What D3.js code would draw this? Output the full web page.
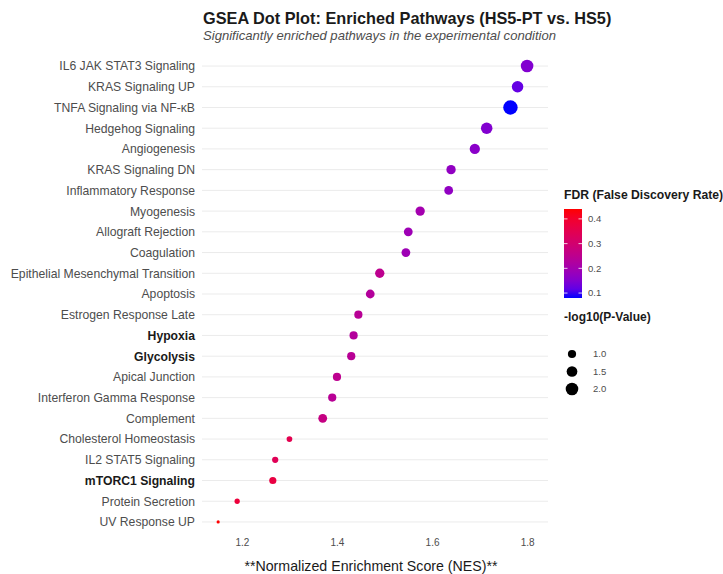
<!DOCTYPE html>
<html>
<head>
<meta charset="utf-8">
<script src="https://cdn.jsdelivr.net/npm/d3@7"></script>
<style>
  html, body { margin: 0; padding: 0; background: #fff; }
  svg { display: block; font-family: "Liberation Sans", Arial, Helvetica, sans-serif; }
</style>
</head>
<body>
<svg id="chart" width="723" height="574"></svg>
<script>
// Hallmark pathways, ordered top to bottom by NES
const pathways = [
  "IL6 JAK STAT3 Signaling", "KRAS Signaling UP", "TNFA Signaling via NF-κB",
  "Hedgehog Signaling", "Angiogenesis", "KRAS Signaling DN", "Inflammatory Response",
  "Myogenesis", "Allograft Rejection", "Coagulation", "Epithelial Mesenchymal Transition",
  "Apoptosis", "Estrogen Response Late", "Hypoxia", "Glycolysis", "Apical Junction",
  "Interferon Gamma Response", "Complement", "Cholesterol Homeostasis",
  "IL2 STAT5 Signaling", "mTORC1 Signaling", "Protein Secretion", "UV Response UP"
];
const nes = [1.80, 1.78, 1.765, 1.715, 1.69, 1.64, 1.635, 1.575, 1.55, 1.545, 1.49,
  1.47, 1.445, 1.435, 1.43, 1.40, 1.39, 1.37, 1.30, 1.27, 1.265, 1.19, 1.15];
const fdr = [0.15, 0.12, 0.08, 0.15, 0.16, 0.17, 0.17, 0.20, 0.19, 0.19, 0.25,
  0.23, 0.24, 0.23, 0.24, 0.25, 0.24, 0.27, 0.35, 0.34, 0.37, 0.38, 0.44];
const negLog10P = [2.0, 1.7, 2.6, 1.7, 1.4, 1.2, 1.1, 1.2, 1.1, 1.1, 1.2,
  1.1, 1.0, 1.0, 1.0, 1.0, 1.0, 1.1, 0.7, 0.75, 0.85, 0.67, 0.6];
// pathways called out in bold on the axis
const highlighted = ["Hypoxia", "Glycolysis", "mTORC1 Signaling"];

const xTicks = [1.2, 1.4, 1.6, 1.8];
const fdrTicks = [0.1, 0.2, 0.3, 0.4];
const sizeTicks = [1.0, 1.5, 2.0];

const titleText = "GSEA Dot Plot: Enriched Pathways (HS5-PT vs. HS5)";
const subtitleText = "Significantly enriched pathways in the experimental condition";
const xLabel = "**Normalized Enrichment Score (NES)**";
const colorLegendTitle = "FDR (False Discovery Rate)";
const sizeLegendTitle = "-log10(P-Value)";

const rows = pathways.map((p, i) => ({ pathway: p, nes: nes[i], fdr: fdr[i], lp: negLog10P[i] }));

const FONT = "'Liberation Sans', Arial, Helvetica, sans-serif";
const svg = d3.select("#chart");
svg.append("rect").attr("width", 723).attr("height", 574).attr("fill", "#fff");

const panel = { left: 202, right: 548, top: 53.6, bottom: 534.4 };

const x = d3.scaleLinear().domain([1.116, 1.844]).range([panel.left, panel.right]);
const y = d3.scalePoint().domain(pathways).range([panel.top, panel.bottom]).padding(0.6);

// continuous blue -> red colour scale over the FDR range
const color = d3.scaleLinear().domain(d3.extent(fdr)).range(["blue", "red"])
  .interpolate(d3.interpolateLab).clamp(true);

// area-proportional sizing between smallest and largest -log10(p)
const lpNorm = d3.scaleLinear().domain(d3.extent(negLog10P)).range([0, 1]).clamp(true);
const radiusOf = d3.scaleLinear().domain([0, 1]).range([1.6, 7.2]);
const r = v => radiusOf(Math.sqrt(lpNorm(v)));

// horizontal grid lines
svg.append("g").selectAll("line").data(pathways).join("line")
  .attr("x1", panel.left).attr("x2", panel.right)
  .attr("y1", d => y(d)).attr("y2", d => y(d))
  .attr("stroke", "#ebebeb").attr("stroke-width", 1);

// y axis labels
const yAxis = svg.append("g").attr("transform", `translate(${panel.left},0)`)
  .call(d3.axisLeft(y).tickSize(0).tickPadding(7));
yAxis.select(".domain").remove();
yAxis.selectAll("text")
  .attr("font-size", 12.2)
  .attr("font-family", FONT)
  .attr("fill", d => highlighted.includes(d) ? "#1a1a1a" : "#4d4d4d")
  .attr("font-weight", d => highlighted.includes(d) ? "bold" : "normal");

// x axis labels
const xAxis = svg.append("g").attr("transform", `translate(0,${panel.bottom})`)
  .call(d3.axisBottom(x).tickValues(xTicks).tickFormat(d3.format(".1f")).tickSize(0).tickPadding(5));
xAxis.select(".domain").remove();
xAxis.selectAll("text")
  .attr("font-size", 10)
  .attr("font-family", FONT)
  .attr("fill", "#4d4d4d");

// dots
svg.append("g").selectAll("circle").data(rows).join("circle")
  .attr("cx", d => x(d.nes))
  .attr("cy", d => y(d.pathway))
  .attr("r", d => r(d.lp))
  .attr("fill", d => color(d.fdr));

// titles
svg.append("text").attr("x", 203).attr("y", 24)
  .attr("font-size", 16.3).attr("font-weight", "bold").attr("fill", "#1a1a1a")
  .text(titleText);
svg.append("text").attr("x", 203).attr("y", 40)
  .attr("font-size", 13.1).attr("font-style", "italic").attr("fill", "#4d4d4d")
  .text(subtitleText);
svg.append("text").attr("x", 371).attr("y", 571)
  .attr("text-anchor", "middle").attr("font-size", 14.2).attr("fill", "#1a1a1a")
  .text(xLabel);

// colour legend
const cl = svg.append("g").attr("transform", "translate(564,0)");
cl.append("text").attr("x", 0).attr("y", 199)
  .attr("font-size", 12.2).attr("font-weight", "bold").attr("fill", "#1a1a1a")
  .text(colorLegendTitle);
const barTop = 209, barBottom = 298;
const barScale = d3.scaleLinear().domain(color.domain()).range([barBottom, barTop]);
const grad = svg.append("defs").append("linearGradient")
  .attr("id", "fdrGrad").attr("x1", 0).attr("x2", 0).attr("y1", 1).attr("y2", 0);
d3.range(0, 1.0001, 0.1).forEach(t => {
  grad.append("stop").attr("offset", t)
    .attr("stop-color", color(color.domain()[0] + t * (color.domain()[1] - color.domain()[0])));
});
cl.append("rect").attr("x", 0).attr("y", barTop).attr("width", 18).attr("height", barBottom - barTop)
  .attr("fill", "url(#fdrGrad)");
fdrTicks.forEach(t => {
  cl.append("line").attr("x1", 0).attr("x2", 3.5).attr("y1", barScale(t)).attr("y2", barScale(t))
    .attr("stroke", "#fff").attr("stroke-width", 0.8);
  cl.append("line").attr("x1", 14.5).attr("x2", 18).attr("y1", barScale(t)).attr("y2", barScale(t))
    .attr("stroke", "#fff").attr("stroke-width", 0.8);
  cl.append("text").attr("x", 24).attr("y", barScale(t) + 3.4)
    .attr("font-size", 9.5).attr("fill", "#4d4d4d").text(d3.format(".1f")(t));
});

// size legend
const sl = svg.append("g").attr("transform", "translate(564,0)");
sl.append("text").attr("x", 0).attr("y", 321)
  .attr("font-size", 12).attr("font-weight", "bold").attr("fill", "#1a1a1a")
  .text(sizeLegendTitle);
const sizeY = d3.scalePoint().domain(sizeTicks).range([354, 389]);
sizeTicks.forEach(t => {
  sl.append("circle").attr("cx", 8).attr("cy", sizeY(t)).attr("r", r(t)).attr("fill", "#000");
  sl.append("text").attr("x", 29).attr("y", sizeY(t) + 3.4)
    .attr("font-size", 9.5).attr("fill", "#4d4d4d").text(d3.format(".1f")(t));
});
</script>
</body>
</html>
